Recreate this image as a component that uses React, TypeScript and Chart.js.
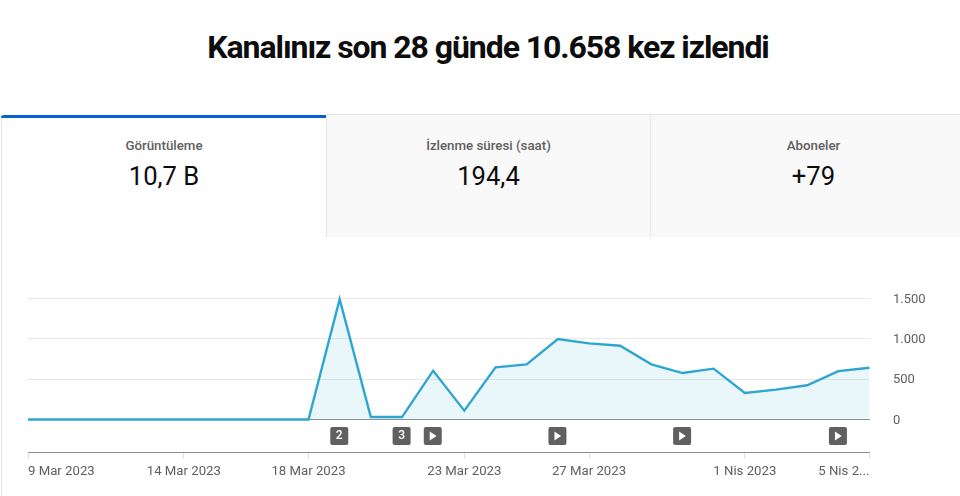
import React, { useEffect, useRef } from "react";
import { Chart, registerables } from "chart.js";

Chart.register(...registerables);

const categories = [
  "9 Mar 2023", "10 Mar 2023", "11 Mar 2023", "12 Mar 2023", "13 Mar 2023", "14 Mar 2023", "15 Mar 2023",
  "16 Mar 2023", "17 Mar 2023", "18 Mar 2023", "19 Mar 2023", "20 Mar 2023", "21 Mar 2023", "22 Mar 2023",
  "23 Mar 2023", "24 Mar 2023", "25 Mar 2023", "26 Mar 2023", "27 Mar 2023", "28 Mar 2023", "29 Mar 2023",
  "30 Mar 2023", "31 Mar 2023", "1 Nis 2023", "2 Nis 2023", "3 Nis 2023", "4 Nis 2023", "5 Nis 2023",
];
const views = [0, 0, 0, 0, 0, 0, 0, 0, 0, 0, 1490, 30, 30, 605, 110, 647, 684, 997, 944, 915, 684, 576, 630, 328, 370, 424, 600, 642];
const xTickIndices = [0, 5, 9, 14, 18, 23, 27];
const xTickLabels = ["9 Mar 2023", "14 Mar 2023", "18 Mar 2023", "23 Mar 2023", "27 Mar 2023", "1 Nis 2023", "5 Nis 2..."];
const yTicks = [0, 500, 1000, 1500];
const markerIndices = [10, 12, 13, 17, 21, 26];
const markerLabels = ["2", "3", "", "", "", ""];
const tabs = [
  { label: "Görüntüleme", value: "10,7 B" },
  { label: "İzlenme süresi (saat)", value: "194,4" },
  { label: "Aboneler", value: "+79" },
];
const title = "Kanalınız son 28 günde 10.658 kez izlendi";

const FONT = "Roboto";

const markerPlugin = {
  id: "markers",
  beforeDraw(chart: any) {
    const items = chart.scales.x.getLabelItems(chart.chartArea);
    items[0].options.textAlign = "left";
    items[items.length - 1].options.textAlign = "right";
    chart.scales.y.getLabelItems(chart.chartArea).forEach((it: any) => {
      it.options.translation = [it.options.translation[0], it.options.translation[1] + 1];
    });
  },
  afterDatasetsDraw(chart: any) {
    const { ctx, scales } = chart;
    const my = scales.y.getPixelForValue(0) + 16.5;
    ctx.save();
    markerIndices.forEach((idx, i) => {
      const mx = scales.x.getPixelForValue(idx) - 0.4;
      ctx.fillStyle = "#606060";
      ctx.beginPath();
      ctx.roundRect(mx - 9, my - 9, 18, 18, 2);
      ctx.fill();
      ctx.fillStyle = "#ffffff";
      if (markerLabels[i]) {
        ctx.font = `500 12px ${FONT}`;
        ctx.textAlign = "center";
        ctx.textBaseline = "middle";
        ctx.fillText(markerLabels[i], mx, my + 0.5);
      } else {
        ctx.beginPath();
        ctx.moveTo(mx - 3, my - 4.5);
        ctx.lineTo(mx + 3.8, my);
        ctx.lineTo(mx - 3, my + 4.5);
        ctx.closePath();
        ctx.fill();
      }
    });
    ctx.restore();
  },
};

export default function App() {
  const ref = useRef<HTMLCanvasElement>(null);
  useEffect(() => {
    const chart = new Chart(ref.current!, {
      type: "line",
      plugins: [markerPlugin],
      data: {
        labels: categories,
        datasets: [
          {
            data: views,
            borderColor: "#2ea6d0",
            borderWidth: 2.4,
            backgroundColor: "rgba(44,163,208,0.1)",
            fill: { value: 0 },
            pointRadius: 0,
            tension: 0,
            clip: false,
          } as any,
        ],
      },
      options: {
        animation: false,
        responsive: false,
        events: [],
        layout: { padding: { left: 28, right: 0, top: 61.5, bottom: 0 } },
        plugins: { legend: { display: false }, tooltip: { enabled: false } },
        scales: {
          x: {
            type: "category",
            offset: false,
            afterBuildTicks: (s: any) => {
              s.ticks = xTickIndices.map((v) => ({ value: v }));
            },
            border: { color: "#8f8f8f", width: 1 },
            grid: { display: true, drawOnChartArea: false, color: "#e2e2e2", tickLength: 7 },
            ticks: {
              autoSkip: false,
              maxRotation: 0,
              minRotation: 0,
              padding: 5,
              color: "#606060",
              font: { family: FONT, size: 13.2 },
              callback: (_v: any, i: number) => xTickLabels[i],
            },
            afterFit: (s: any) => {
              s.height = 44;
              s.paddingLeft = 0;
              s.paddingRight = 0;
            },
          },
          y: {
            type: "linear",
            position: "right",
            min: -403,
            max: 1500,
            afterBuildTicks: (s: any) => {
              s.ticks = yTicks.map((v) => ({ value: v }));
            },
            afterFit: (s: any) => {
              s.width = 90.5;
            },
            border: { display: false },
            grid: {
              drawTicks: false,
              color: (c: any) => (c.tick && c.tick.value === 0 ? "#8f8f8f" : "#e8e8e8"),
            },
            ticks: {
              color: "#606060",
              padding: 23.5,
              align: "center",
              crossAlign: "near",
              font: { family: FONT, size: 13 },
              callback: (v: any) => (v === 0 ? "0" : Number(v).toLocaleString("de-DE")),
            },
          },
        },
      } as any,
    });
    return () => chart.destroy();
  }, []);

  return (
    <div style={{ position: "absolute", left: 0, top: 0, width: 960, height: 496, overflow: "hidden", background: "#fff", fontFamily: FONT }}>
      <div style={{ position: "absolute", left: 0, width: 976, top: 26, textAlign: "center", fontSize: 32, fontWeight: 700, color: "#0d0d0d", lineHeight: "42px", letterSpacing: "-1.07px", whiteSpace: "nowrap" }}>{title}</div>
      <div style={{ position: "absolute", left: 1, top: 115, width: 1, height: 381, background: "#e5e5e5" }} />
      {tabs.map((t, i) => {
        const lefts = [2, 326, 650];
        const widths = [324, 324, 326];
        return (
          <div key={i} style={{ position: "absolute", left: lefts[i], top: 114, width: widths[i], height: 123, background: i === 0 ? "#fff" : "#f9f9f9", borderTop: i === 0 ? "none" : "1px solid #e5e5e5", boxSizing: "border-box", textAlign: "center", borderLeft: i === 0 ? "none" : "1px solid #e5e5e5" }}>
            {i === 0 && <div style={{ position: "absolute", left: -1, top: 1, width: 325, height: 3, background: "#065fd4", borderTopLeftRadius: 3 }} />}
            <div style={{ position: "absolute", left: 0, right: 0, top: i === 0 ? 23 : 22, fontSize: 13.3, fontWeight: 500, color: "#606060", lineHeight: "18px" }}>{t.label}</div>
            <div style={{ position: "absolute", left: 0, right: 0, top: i === 0 ? 45 : 44, fontSize: 25.6, color: "#0d0d0d", lineHeight: "34px" }}>{t.value}</div>
          </div>
        );
      })}
      <div style={{ position: "absolute", left: 0, top: 237, width: 960, height: 259 }}>
        <canvas ref={ref} width={960} height={259} style={{ display: "block", width: 960, height: 259 }} />
      </div>
    </div>
  );
}
